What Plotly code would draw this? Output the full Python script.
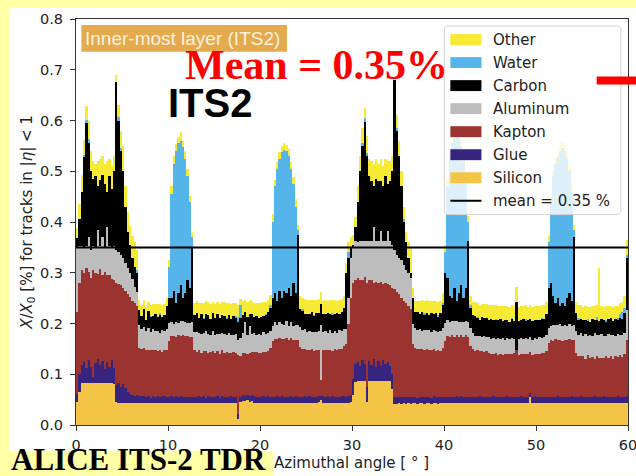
import numpy as np
import plotly.graph_objects as go

# Material budget of the innermost ITS2 layer, X/X0 [%] per 0.25 degree azimuthal bin
BIN_WIDTH = 0.25
MEAN_X0 = 0.35

silicon = [
    .045, .065, .082, .083, .082, .083, .082, .082, .083, .082, .083, .082, .083, .082, .083, .082, .080, .045, .044, .043,
    .044, .043, .044, .043, .043, .044, .043, .043, .044, .043, .043, .044, .043, .043, .044, .043, .043, .044, .043, .043,
    .043, .043, .043, .044, .043, .043, .044, .043, .043, .044, .043, .043, .044, .043, .043, .044, .043, .043, .044, .043,
    .043, .044, .043, .043, .044, .043, .043, .044, .043, .043, .012, .046, .048, .047, .049, .046, .048, .043, .044, .043,
    .043, .044, .043, .043, .044, .043, .043, .044, .043, .043, .044, .043, .043, .044, .043, .043, .044, .043, .043, .044,
    .043, .043, .044, .043, .043, .045, .050, .043, .043, .044, .043, .043, .044, .043, .043, .044, .043, .043, .043, .045,
    .060, .085, .086, .086, .086, .086, .045, .086, .086, .086, .086, .086, .086, .086, .086, .086, .086, .070, .042, .042,
    .043, .042, .043, .042, .043, .042, .043, .043, .042, .043, .043, .042, .043, .043, .042, .043, .043, .042, .043, .043,
    .043, .043, .044, .043, .043, .044, .043, .043, .044, .043, .043, .043, .044, .043, .043, .044, .043, .043, .044, .043,
    .043, .044, .043, .043, .044, .043, .043, .044, .043, .043, .044, .043, .043, .044, .043, .043, .044, .055, .043, .044,
    .043, .043, .044, .043, .043, .043, .044, .043, .043, .044, .043, .043, .044, .043, .043, .044, .043, .043, .043, .044,
    .043, .043, .044, .043, .043, .044, .043, .043, .043, .044, .043, .043, .044, .043, .043, .044, .043, .043, .043, .043,
]

glue = [
    .017, .035, .036, .042, .030, .045, .033, .013, .039, .048, .035, .044, .027, .042, .032, .046, .032, .033, .038, .032,
    .036, .029, .022, .019, .017, .014, .017, .014, .013, .015, .012, .014, .011, .015, .012, .014, .012, .013, .015, .012,
    .013, .014, .012, .013, .013, .014, .012, .013, .013, .012, .013, .013, .012, .014, .012, .013, .011, .014, .012, .013,
    .012, .013, .011, .014, .012, .013, .012, .014, .012, .013, .010, .010, .012, .011, .010, .012, .011, .014, .012, .013,
    .012, .013, .012, .014, .012, .013, .012, .013, .012, .014, .012, .013, .012, .013, .012, .014, .012, .013, .012, .013,
    .012, .014, .012, .013, .012, .013, .008, .014, .012, .013, .012, .014, .012, .013, .012, .013, .014, .013, .014, .015,
    .030, .035, .039, .030, .042, .034, .030, .040, .032, .044, .028, .040, .030, .042, .035, .038, .030, .030, .013, .014,
    .012, .013, .012, .013, .012, .013, .012, .013, .012, .013, .012, .014, .012, .013, .012, .014, .012, .013, .012, .013,
    .013, .013, .012, .013, .012, .013, .012, .014, .012, .013, .012, .013, .012, .013, .012, .013, .012, .013, .012, .013,
    .012, .013, .012, .013, .012, .013, .012, .013, .012, .013, .012, .012, .012, .013, .012, .013, .012, .008, .012, .013,
    .012, .013, .012, .013, .012, .013, .012, .013, .012, .013, .012, .013, .012, .013, .012, .013, .012, .013, .012, .013,
    .012, .013, .012, .013, .012, .013, .012, .013, .012, .013, .012, .013, .012, .013, .012, .013, .012, .013, .012, .014,
]

kapton = [
    .160, .180, .187, .175, .198, .174, .175, .210, .178, .168, .190, .169, .192, .172, .180, .160, .173, .202, .196, .200,
    .190, .193, .192, .190, .185, .182, .175, .095, .093, .094, .092, .090, .093, .089, .091, .088, .092, .087, .090, .093,
    .110, .118, .120, .117, .121, .118, .122, .119, .120, .118, .117, .092, .088, .090, .086, .089, .091, .085, .088, .090,
    .087, .089, .086, .090, .085, .088, .087, .084, .089, .086, .115, .080, .082, .084, .080, .083, .085, .086, .088, .085,
    .087, .086, .089, .088, .095, .110, .115, .112, .116, .113, .114, .116, .112, .115, .113, .110, .112, .098, .095, .092,
    .093, .090, .094, .089, .092, .090, .030, .091, .093, .090, .092, .089, .093, .091, .094, .092, .098, .104, .143, .190,
    .190, .165, .165, .169, .157, .172, .205, .159, .168, .150, .168, .154, .166, .150, .159, .153, .160, .170, .213, .206,
    .203, .195, .190, .185, .180, .173, .105, .096, .095, .093, .094, .092, .095, .091, .094, .092, .090, .093, .091, .095,
    .110, .120, .118, .122, .119, .121, .118, .120, .117, .121, .118, .100, .093, .090, .092, .088, .090, .087, .089, .086,
    .085, .083, .086, .082, .084, .081, .085, .082, .084, .083, .085, .092, .083, .082, .085, .083, .084, .080, .083, .082,
    .084, .083, .085, .086, .090, .105, .112, .110, .114, .111, .113, .110, .112, .111, .114, .110, .112, .085, .080, .078,
    .080, .075, .082, .076, .079, .074, .080, .077, .078, .075, .081, .076, .079, .074, .080, .077, .082, .078, .085, .110,
]

aluminum = [
    .128, .072, .047, .050, .042, .068, .055, .047, .050, .087, .044, .075, .048, .094, .057, .062, .067, .065, .062, .060,
    .060, .055, .052, .048, .043, .032, .027, .045, .040, .042, .038, .044, .036, .043, .038, .041, .035, .044, .037, .042,
    .035, .027, .025, .028, .024, .030, .026, .028, .025, .027, .030, .036, .040, .034, .038, .035, .040, .037, .033, .039,
    .036, .034, .040, .035, .038, .033, .039, .036, .034, .037, .030, .035, .040, .060, .038, .055, .036, .039, .034, .038,
    .036, .040, .035, .037, .035, .030, .032, .028, .031, .030, .027, .033, .029, .030, .027, .031, .030, .040, .037, .040,
    .035, .038, .034, .039, .036, .037, .110, .036, .038, .035, .040, .036, .037, .035, .039, .036, .035, .030, .050, .080,
    .070, .077, .070, .077, .077, .070, .082, .077, .076, .110, .080, .082, .100, .084, .082, .105, .086, .085, .077, .073,
    .072, .075, .070, .065, .065, .062, .040, .040, .038, .041, .036, .039, .037, .040, .035, .038, .041, .036, .039, .040,
    .035, .030, .028, .026, .030, .027, .029, .026, .030, .028, .030, .035, .033, .030, .028, .031, .029, .032, .028, .031,
    .030, .032, .029, .033, .030, .034, .028, .032, .030, .033, .029, .000, .031, .033, .030, .032, .029, .031, .030, .033,
    .031, .034, .030, .032, .033, .030, .028, .032, .029, .030, .031, .029, .030, .028, .031, .029, .030, .045, .042, .046,
    .040, .048, .038, .045, .041, .050, .042, .044, .046, .043, .040, .047, .042, .048, .041, .045, .040, .044, .042, .060,
]

carbon = [
    .018, .053, .108, .180, .243, .185, .155, .133, .140, .085, .130, .122, .125, .070, .138, .115, .148, .330, .260, .205,
    .170, .110, .070, .055, .042, .040, .038, .030, .025, .035, .022, .032, .030, .024, .033, .027, .035, .025, .031, .045,
    .050, .048, .065, .038, .059, .070, .046, .057, .084, .069, .147, .032, .036, .030, .040, .028, .034, .037, .031, .035,
    .033, .038, .030, .034, .036, .032, .035, .031, .037, .033, .035, .040, .035, .020, .036, .022, .038, .030, .037, .032,
    .035, .031, .038, .040, .045, .054, .058, .048, .063, .050, .068, .055, .074, .053, .085, .062, .177, .035, .038, .030,
    .036, .033, .038, .031, .037, .035, .040, .034, .032, .038, .031, .036, .033, .038, .030, .037, .040, .110, .080, .020,
    .005, .028, .080, .138, .188, .235, .168, .128, .118, .080, .123, .118, .098, .108, .128, .093, .118, .145, .335, .245,
    .200, .145, .085, .055, .030, .010, .050, .030, .036, .028, .038, .031, .034, .029, .037, .032, .035, .030, .036, .045,
    .099, .084, .053, .046, .066, .040, .058, .072, .047, .065, .159, .040, .034, .038, .036, .031, .039, .035, .037, .033,
    .038, .034, .037, .035, .039, .033, .038, .036, .034, .037, .035, .095, .036, .034, .038, .035, .037, .034, .036, .034,
    .037, .033, .038, .035, .040, .079, .084, .057, .042, .052, .036, .045, .037, .055, .060, .049, .173, .035, .031, .028,
    .032, .027, .030, .026, .033, .025, .030, .027, .029, .031, .027, .030, .033, .026, .032, .028, .034, .030, .038, .103,
]

water = [
    0, 0, 0, .003, .006, .008, 0, 0, 0, 0, 0, 0, 0, 0, 0, 0, 0, 0, .006, .005,
    0, 0, 0, 0, 0, 0, .005, 0, 0, 0, 0, 0, .002, 0, 0, 0, .003, 0, 0, 0,
    .060, .205, .250, .300, .295, .285, .298, .265, .205, .170, .020, 0, 0, 0, 0, .002, 0, 0, 0, 0,
    0, 0, 0, 0, 0, .002, 0, 0, 0, .003, .010, .025, 0, 0, 0, 0, 0, 0, 0, 0,
    0, 0, .002, 0, .005, .150, .210, .260, .260, .287, .277, .280, .260, .250, .195, .170, .010, 0, .003, 0,
    0, 0, 0, .002, 0, 0, 0, 0, 0, 0, 0, .002, 0, 0, 0, 0, 0, 0, .010, 0,
    0, 0, 0, 0, .005, .008, .005, 0, 0, 0, 0, 0, 0, 0, 0, 0, 0, 0, 0, .005,
    0, 0, .005, 0, 0, 0, 0, 0, 0, 0, 0, .002, 0, 0, 0, 0, 0, .003, 0, .005,
    .040, .180, .275, .305, .295, .325, .305, .275, .270, .210, .038, .005, 0, 0, .002, 0, 0, 0, 0, 0,
    0, 0, .002, 0, 0, 0, 0, 0, 0, .002, 0, 0, 0, 0, 0, .002, 0, 0, 0, 0,
    0, 0, .002, 0, 0, .090, .160, .235, .275, .280, .305, .305, .305, .275, .240, .215, .015, 0, .003, 0,
    0, 0, .002, 0, 0, 0, .005, 0, 0, 0, .003, 0, 0, 0, 0, .004, .008, .015, .010, .005,
]

other = [
    .020, .030, .032, .029, .027, .037, .040, .035, .025, .050, .043, .038, .040, .060, .035, .045, .030, .015, .024, .035,
    .050, .040, .040, .037, .042, .048, .040, .020, .022, .018, .025, .019, .022, .024, .020, .025, .018, .024, .022, .015,
    .015, .015, .015, .013, .013, .018, .012, .015, .015, .012, .010, .024, .025, .030, .021, .030, .025, .026, .030, .023,
    .027, .024, .029, .026, .027, .030, .025, .029, .026, .025, .025, .012, .028, .025, .030, .028, .026, .029, .025, .030,
    .027, .028, .023, .025, .020, .015, .012, .013, .013, .013, .014, .012, .013, .013, .013, .015, .010, .026, .022, .030,
    .027, .028, .025, .030, .026, .028, .025, .027, .029, .025, .028, .026, .027, .025, .029, .026, .025, .020, .020, .020,
    .020, .020, .030, .030, .030, .020, .035, .035, .040, .045, .040, .035, .045, .040, .035, .045, .040, .030, .005, .025,
    .030, .030, .025, .020, .030, .050, .020, .023, .022, .026, .024, .025, .026, .028, .024, .026, .023, .025, .024, .020,
    .015, .015, .013, .013, .013, .015, .013, .013, .013, .015, .012, .019, .027, .028, .027, .030, .026, .029, .028, .030,
    .028, .030, .027, .029, .026, .030, .028, .027, .030, .026, .029, .030, .028, .029, .026, .028, .027, .028, .029, .028,
    .027, .029, .026, .028, .025, .015, .013, .013, .012, .012, .012, .012, .012, .012, .013, .013, .010, .022, .025, .027,
    .025, .028, .024, .030, .026, .028, .025, .106, .027, .026, .028, .025, .024, .029, .026, .024, .021, .020, .025, .030,
]

# Stacking order bottom -> top, with the colour of each material
materials = [
    ("Silicon", silicon, "#F4C446"),
    ("Glue", glue, "#37247F"),
    ("Kapton", kapton, "#9B3330"),
    ("Aluminum", aluminum, "#BDBDBD"),
    ("Carbon", carbon, "#000000"),
    ("Water", water, "#55B5EA"),
    ("Other", other, "#F7EA35"),
]
legend_order = ["Other", "Water", "Carbon", "Aluminum", "Kapton", "Glue", "Silicon"]

angle = np.arange(len(silicon)) * BIN_WIDTH + BIN_WIDTH / 2

fig = go.Figure()
for name, values, color in materials:
    fig.add_trace(go.Bar(
        x=angle, y=values, name=name, width=BIN_WIDTH,
        marker=dict(color=color, line=dict(width=0)),
        hoverinfo="skip", showlegend=False,
    ))

# Layout is designed on a 636 x 476 grid; the page itself is a little wider.
GRID_W = 636
W, H = 648, 476
SX = W / GRID_W
L, R, T, B = 76, 11, 16, 51
PW, PH = W - L - R, H - T - B
PAGE_YELLOW = "#FFFFA6"
TEXT = "#222222"


def px(xg):
    return (xg * SX - L) / PW


def py(yg):
    return (H - B - yg) / PH


def rounded_rect(x0, y0, x1, y1, r=4):
    """Closed path with rounded corners, grid pixels -> paper coordinates."""
    X0, X1, Y0, Y1 = px(x0), px(x1), py(y1), py(y0)
    rx, ry = r * SX / PW, r / PH
    return (f"M{X0 + rx},{Y1} L{X1 - rx},{Y1} Q{X1},{Y1} {X1},{Y1 - ry} "
            f"L{X1},{Y0 + ry} Q{X1},{Y0} {X1 - rx},{Y0} L{X0 + rx},{Y0} "
            f"Q{X0},{Y0} {X0},{Y0 + ry} L{X0},{Y1 - ry} Q{X0},{Y1} {X0 + rx},{Y1} Z")


shapes = [
    # white figure panel on the yellow page
    dict(type="rect", xref="paper", yref="paper", layer="below",
         x0=px(8), x1=px(GRID_W), y0=py(H), y1=py(5),
         fillcolor="white", line=dict(width=0)),
    # yellow strip behind the source caption
    dict(type="rect", xref="paper", yref="paper", layer="below",
         x0=px(0), x1=px(271), y0=py(H), y1=py(451),
         fillcolor=PAGE_YELLOW, line=dict(width=0)),
    # mean line
    dict(type="line", xref="paper", yref="y", layer="above",
         x0=0, x1=1, y0=MEAN_X0, y1=MEAN_X0,
         line=dict(color="black", width=2)),
    # "Inner-most layer" tag
    dict(type="rect", xref="paper", yref="paper", layer="above",
         x0=px(80), x1=px(285), y0=py(49), y1=py(22),
         fillcolor="#E6AA4E", line=dict(width=0)),
    # legend frame
    dict(type="path", xref="paper", yref="paper", layer="above",
         path=rounded_rect(442, 23, 618, 213),
         fillcolor="rgba(255,255,255,0.8)", line=dict(color="#D3D3D3", width=1)),
    # red marker at the right page edge
    dict(type="rect", xref="paper", yref="paper", layer="above",
         x0=px(594), x1=px(GRID_W), y0=py(82), y1=py(74),
         fillcolor="#FF0000", line=dict(width=0)),
]

annotations = []
colors = {name: color for name, _, color in materials}
row_y0, row_step = 36.7, 23.2
for i, name in enumerate(legend_order):
    yc = row_y0 + i * row_step
    shapes.append(dict(type="rect", xref="paper", yref="paper", layer="above",
                       x0=px(448), x1=px(479), y0=py(yc + 5.5), y1=py(yc - 5.5),
                       fillcolor=colors[name], line=dict(width=0)))
    annotations.append(dict(xref="paper", yref="paper", x=px(489), y=py(yc),
                            xanchor="left", yanchor="middle", showarrow=False,
                            text=name, font=dict(family="DejaVu Sans", size=15, color=TEXT)))
yc = row_y0 + len(legend_order) * row_step
shapes.append(dict(type="line", xref="paper", yref="paper", layer="above",
                   x0=px(448), x1=px(479), y0=py(yc), y1=py(yc),
                   line=dict(color="black", width=2)))
annotations.append(dict(xref="paper", yref="paper", x=px(489), y=py(yc),
                        xanchor="left", yanchor="middle", showarrow=False,
                        text=f"mean = {MEAN_X0:.2f} %",
                        font=dict(family="DejaVu Sans", size=15, color=TEXT)))

annotations += [
    dict(xref="paper", yref="paper", x=px(82), y=py(35.5), xanchor="left", yanchor="middle",
         showarrow=False, text="Inner-most layer (ITS2)",
         font=dict(family="Liberation Sans", size=19, color="#FBF1DC")),
    dict(xref="paper", yref="paper", x=px(181), y=py(62.5), xanchor="left", yanchor="middle",
         showarrow=False, text=f"<b>Mean = {MEAN_X0:.2f}%</b>",
         font=dict(family="Liberation Serif", size=42, color="#FF0000")),
    dict(xref="paper", yref="paper", x=px(164), y=py(101), xanchor="left", yanchor="middle",
         showarrow=False, text="<b>ITS2</b>",
         font=dict(family="Liberation Sans", size=40, color="black")),
    dict(xref="paper", yref="paper", x=px(8), y=py(459.5), xanchor="left", yanchor="middle",
         showarrow=False, text="<b>ALICE ITS-2 TDR</b>",
         font=dict(family="Liberation Serif", size=31, color="black")),
    dict(xref="paper", yref="paper", x=px(349), y=py(463), xanchor="center", yanchor="middle",
         showarrow=False, text="Azimuthal angle [ ° ]",
         font=dict(family="DejaVu Sans", size=15, color=TEXT)),
    dict(xref="paper", yref="paper", x=px(26), y=py(221), xanchor="center", yanchor="middle",
         showarrow=False, textangle=-90,
         text="<i>X</i>/<i>X</i><sub>0</sub> [%] for tracks in |<i>η</i>| &lt; 1",
         font=dict(family="DejaVu Sans", size=15, color=TEXT)),
]

axis_common = dict(
    showline=True, mirror=True, linecolor="#333", linewidth=1,
    ticks="outside", ticklen=5, tickcolor="#333", showgrid=False, zeroline=False,
    tickfont=dict(family="DejaVu Sans", size=14.5, color=TEXT),
)

fig.update_layout(
    width=W, height=H, margin=dict(l=L, r=R, t=T, b=B),
    paper_bgcolor=PAGE_YELLOW, plot_bgcolor="white",
    barmode="stack", bargap=0, showlegend=False,
    xaxis=dict(range=[0, 60], dtick=10, ticklabelstandoff=2, **axis_common),
    yaxis=dict(range=[0, 0.8], dtick=0.1, tickformat=".1f", ticklabelstandoff=4, **axis_common),
    shapes=shapes, annotations=annotations,
)

fig.write_html("out.html")
